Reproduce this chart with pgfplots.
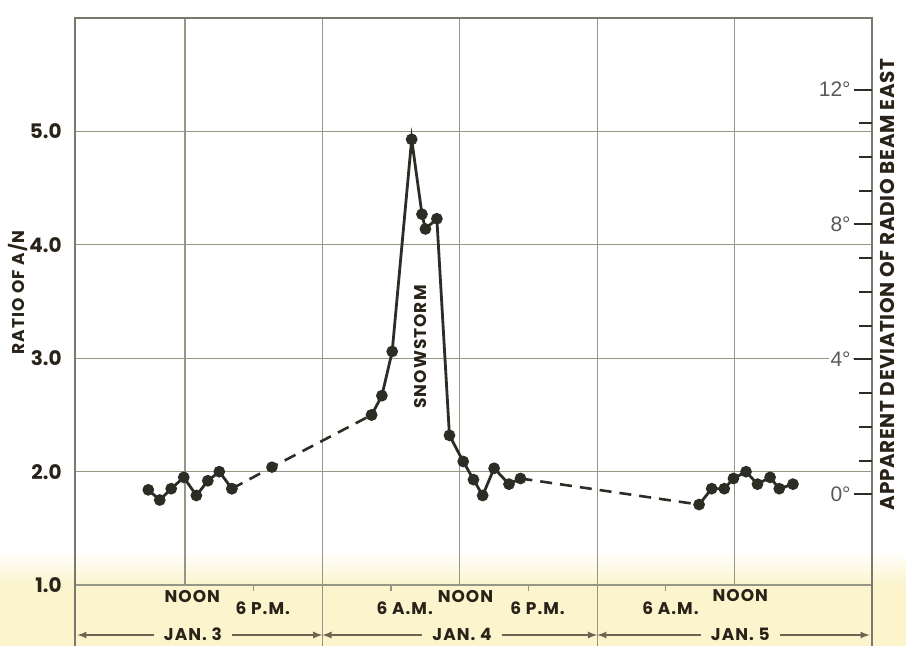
\documentclass[border=0pt]{standalone}
\usepackage{fontspec}
\setmainfont{Poppins}
\newfontfamily\lightsans{Liberation Sans}
\newfontfamily\spaced{Poppins}[LetterSpace=6]
\newfontfamily\spacedb{Poppins}[LetterSpace=3]
\usepackage{pgfplots}
\pgfplotsset{compat=1.18}
\usepackage{pgfplotstable}

\definecolor{ink}{RGB}{45,45,38}
\definecolor{gridc}{RGB}{150,150,135}
\definecolor{band}{RGB}{252,244,205}
\definecolor{txt}{RGB}{40,34,25}
\definecolor{brk}{RGB}{110,100,80}

\pgfplotstableread{
x y
8.8 1.84
9.8 1.75
10.8 1.85
11.9 1.95
13.0 1.79
14.0 1.92
15.0 2.00
16.1 1.85
}\janthree

\pgfplotstableread{
x y
16.1 1.85
19.6 2.04
28.3 2.50
}\gapone

\pgfplotstableread{
x y
28.3 2.50
29.2 2.67
30.1 3.06
31.8 4.93
32.7 4.27
33.0 4.14
34.0 4.23
35.1 2.32
36.3 2.09
37.2 1.93
38.0 1.79
39.0 2.03
40.3 1.89
41.3 1.94
}\storm

\pgfplotstableread{
x y
41.3 1.94
56.9 1.71
}\gaptwo

\pgfplotstableread{
x y
56.9 1.71
58.0 1.85
59.1 1.85
59.9 1.94
61.0 2.00
62.0 1.89
63.1 1.95
63.9 1.85
65.1 1.89
}\janfive

\begin{document}
\begin{tikzpicture}
\begin{axis}[
  scale only axis, width=398.5pt, height=313.6pt,
  xmin=2.4, xmax=72, ymin=0.47, ymax=6.0,
  clip=false,
  axis line style={draw=none},
  xtick=\empty, ytick=\empty,
]
% background band
\fill[band] (axis cs:-4.3,0.35) rectangle (axis cs:75.5,1.0);
\shade[top color=white, bottom color=band] (axis cs:-4.3,1.0) rectangle (axis cs:75.5,1.3);
% grid
\pgfplotsinvokeforeach{1,2,3,4,5}{
  \draw[gridc, line width=0.6pt] (axis cs:2.4,#1) -- (axis cs:72,#1);
  \node[anchor=east, text=txt, font=\bfseries\fontsize{10}{10}\selectfont, inner sep=0pt] at ([xshift=-6.5pt]axis cs:2.4,#1) {#1.0};
}
\pgfplotsinvokeforeach{12,36,60}{
  \draw[gridc, line width=0.6pt] (axis cs:#1,1) -- (axis cs:#1,6);
}
\pgfplotsinvokeforeach{24,48}{
  \draw[gridc, line width=0.6pt] (axis cs:#1,0.35) -- (axis cs:#1,6);
}
\pgfplotsinvokeforeach{18,30,42,54}{
  \draw[gridc, line width=0.6pt] (axis cs:#1,1) -- ([yshift=-3pt]axis cs:#1,1);
}
% frame
\draw[gridc!80!black, line width=0.7pt] (axis cs:2.4,0.35) -- (axis cs:2.4,6) -- (axis cs:72,6) -- (axis cs:72,0.35);

% data
\addplot[ink, line width=1.4pt, mark=*, mark size=2.2pt, mark options={solid, fill=ink}] table {\janthree};
\addplot[ink, line width=1.3pt, dash pattern=on 6pt off 4pt, mark=*, mark size=2.2pt, mark options={solid, fill=ink}] table {\gapone};
\addplot[ink, line width=1.4pt, mark=*, mark size=2.2pt, mark options={solid, fill=ink}] table {\storm};
\addplot[ink, line width=1.3pt, dash pattern=on 6pt off 4pt] table {\gaptwo};
\addplot[ink, line width=1.4pt, mark=*, mark size=2.2pt, mark options={solid, fill=ink}] table {\janfive};

% annotations
\node[rotate=90, text=txt, font=\spaced\bfseries\fontsize{8.5}{8.5}\selectfont] at (axis cs:32.6,3.1) {SNOWSTORM};

% time labels
\node[text=txt, font=\spaced\bfseries\fontsize{8.5}{8.5}\selectfont] at (axis cs:12.65,0.90) {NOON};
\node[text=txt, font=\spaced\bfseries\fontsize{8.5}{8.5}\selectfont] at (axis cs:18.8,0.80) {6 P.M.};
\node[text=txt, font=\spaced\bfseries\fontsize{8.5}{8.5}\selectfont] at (axis cs:31.2,0.80) {6 A.M.};
\node[text=txt, font=\spaced\bfseries\fontsize{8.5}{8.5}\selectfont] at (axis cs:36.5,0.90) {NOON};
\node[text=txt, font=\spaced\bfseries\fontsize{8.5}{8.5}\selectfont] at (axis cs:42.8,0.80) {6 P.M.};
\node[text=txt, font=\spaced\bfseries\fontsize{8.5}{8.5}\selectfont] at (axis cs:54.4,0.80) {6 A.M.};
\node[text=txt, font=\spaced\bfseries\fontsize{8.5}{8.5}\selectfont] at (axis cs:60.5,0.91) {NOON};

% day brackets
\draw[brk, line width=0.6pt, <->, >=latex] (axis cs:2.6,0.56) -- (axis cs:24,0.56);
\draw[brk, line width=0.6pt, <->, >=latex] (axis cs:24,0.56) -- (axis cs:48,0.56);
\draw[brk, line width=0.6pt, <->, >=latex] (axis cs:48,0.56) -- (axis cs:71.8,0.56);
\node[fill=band, inner xsep=5pt, inner ysep=1pt, text=txt, font=\spaced\bfseries\fontsize{8.5}{8.5}\selectfont] at (axis cs:12.7,0.565) {JAN. 3};
\node[fill=band, inner xsep=5pt, inner ysep=1pt, text=txt, font=\spaced\bfseries\fontsize{8.5}{8.5}\selectfont] at (axis cs:36.2,0.565) {JAN. 4};
\node[fill=band, inner xsep=5pt, inner ysep=1pt, text=txt, font=\spaced\bfseries\fontsize{8.5}{8.5}\selectfont] at (axis cs:60.5,0.565) {JAN. 5};

% axis titles
\node[rotate=90, text=txt, font=\spaced\bfseries\fontsize{8.5}{8.5}\selectfont] at ([xshift=-28.5pt]axis cs:2.4,3.58) {RATIO OF A/N};
\node[rotate=90, text=txt, font=\spacedb\bfseries\fontsize{10}{10}\selectfont] at ([xshift=7.5pt]axis cs:72,3.65) {APPARENT DEVIATION OF RADIO BEAM EAST};
\end{axis}

\begin{axis}[
  scale only axis, width=398.5pt, height=313.6pt,
  xmin=2.4, xmax=72, ymin=-4.47, ymax=14.12,
  axis x line=none, axis y line*=right,
  axis line style={draw=none},
  ytick={0,4,8,12}, yticklabels={0°,4°,8°,12°},
  minor ytick={1,2,3,5,6,7,9,10,11},
  tick align=inside,
  major tick length=9pt, minor tick length=6.5pt,
  every tick/.style={ink, line width=1pt},
  yticklabel style={anchor=east, xshift=-9.5pt, font=\lightsans\fontsize{10.5}{10.5}\selectfont, text=black!65, fill=white, inner sep=1pt},
]
\addplot[draw=none] coordinates {(10,0)};
\end{axis}
\pgfresetboundingbox
\path[use as bounding box] ([xshift=-37.5pt]current axis.south west) rectangle ([xshift=17pt,yshift=9pt]current axis.north east);
\end{tikzpicture}
\end{document}
